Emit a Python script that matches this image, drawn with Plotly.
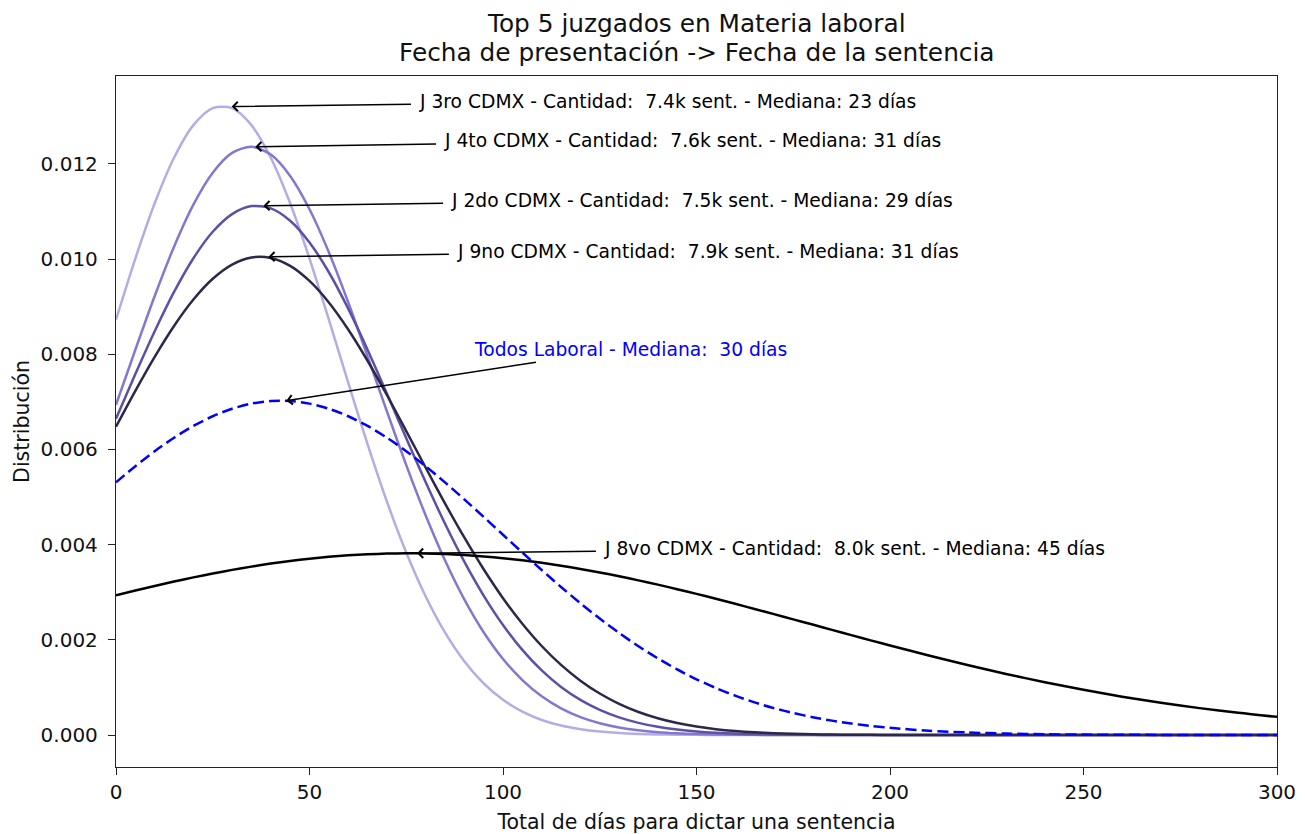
import plotly.graph_objects as go

# ---------------- data ----------------
dias = [0, 5, 10, 15, 20, 25, 30, 35, 40, 45, 50, 55, 60, 65, 70, 75, 80, 85,
        90, 95, 100, 105, 110, 115, 120, 125, 130, 135, 140, 145, 150, 155, 160,
        165, 170, 175, 180, 185, 190, 195, 200,
        210, 220, 230, 240, 250, 260, 270, 280, 290, 300]

j3ro = [0.008727, 0.010010, 0.011171, 0.012128, 0.012812, 0.013169, 0.013169,
        0.012812, 0.012128, 0.011171, 0.010010, 0.008727, 0.007403, 0.006110,
        0.004905, 0.003833, 0.002914, 0.002154, 0.001550, 0.001085, 0.000739,
        0.000490, 0.000316, 0.000198, 0.000121, 0.0000718, 0.0000415, 0.0000233,
        0.0000128, 0.0000068, 0.0000035, 0.0000018, 0.0000009, 0.0000004,
        0.0000002, 0, 0, 0, 0, 0, 0,
        0, 0, 0, 0, 0, 0, 0, 0, 0, 0]
j4to = [0.006936, 0.008094, 0.009222, 0.010259, 0.011142, 0.011813, 0.012229,
        0.012358, 0.012194, 0.011746, 0.011046, 0.010142, 0.009091, 0.007955,
        0.006798, 0.005670, 0.004617, 0.003670, 0.002849, 0.002159, 0.001597,
        0.001154, 0.000813, 0.000560, 0.000376, 0.000247, 0.000158, 0.0000990,
        0.0000604, 0.0000360, 0.0000210, 0.0000119, 0.0000066, 0.0000036,
        0.0000019, 0.0000010, 0, 0, 0, 0, 0,
        0, 0, 0, 0, 0, 0, 0, 0, 0, 0]
j2do = [0.006646, 0.007582, 0.008482, 0.009308, 0.010017, 0.010573, 0.010944,
        0.011112, 0.011064, 0.010805, 0.010349, 0.009722, 0.008957, 0.008094,
        0.007173, 0.006235, 0.005314, 0.004443, 0.003643, 0.002930, 0.002311,
        0.001788, 0.001356, 0.001009, 0.000737, 0.000527, 0.000370, 0.000255,
        0.000172, 0.000114, 0.0000740, 0.0000471, 0.0000294, 0.0000181,
        0.0000108, 0.0000064, 0.0000037, 0.0000021, 0.0000012, 0.0000006, 0,
        0, 0, 0, 0, 0, 0, 0, 0, 0, 0]
j9no = [0.006478, 0.007232, 0.007946, 0.008594, 0.009148, 0.009585, 0.009884,
        0.010033, 0.010023, 0.009856, 0.009539, 0.009087, 0.008520, 0.007863,
        0.007143, 0.006386, 0.005620, 0.004867, 0.004150, 0.003482, 0.002875,
        0.002338, 0.001870, 0.001473, 0.001142, 0.000871, 0.000654, 0.000484,
        0.000352, 0.000252, 0.000177, 0.000123, 0.0000841, 0.0000565,
        0.0000373, 0.0000243, 0.0000156, 0.0000098, 0.0000061, 0.0000037,
        0.0000022,
        0.0000007, 0, 0, 0, 0, 0, 0, 0, 0, 0]
j8vo = [0.002936, 0.003036, 0.003132, 0.003224, 0.003312, 0.003393, 0.003469,
        0.003538, 0.003601, 0.003656, 0.003703, 0.003743, 0.003774, 0.003797,
        0.003811, 0.003817, 0.003814, 0.003802, 0.003781, 0.003752, 0.003715,
        0.003670, 0.003617, 0.003556, 0.003489, 0.003415, 0.003335, 0.003249,
        0.003159, 0.003064, 0.002965, 0.002862, 0.002757, 0.002649, 0.002540,
        0.002430, 0.002320, 0.002209, 0.002099, 0.001989, 0.001882,
        0.001671, 0.001471, 0.001283, 0.001109, 0.000950, 0.000806, 0.000678,
        0.000565, 0.000466, 0.000381]
todos = [0.005308, 0.005648, 0.005963, 0.006246, 0.006493, 0.006697, 0.006855,
         0.006962, 0.007016, 0.007016, 0.006962, 0.006855, 0.006697, 0.006493,
         0.006246, 0.005963, 0.005648, 0.005308, 0.004951, 0.004582, 0.004207,
         0.003834, 0.003466, 0.003110, 0.002769, 0.002446, 0.002144, 0.001865,
         0.001610, 0.001378, 0.001171, 0.000988, 0.000827, 0.000686, 0.000565,
         0.000462, 0.000375, 0.000302, 0.000241, 0.000191, 0.000150,
         0.0000908, 0.0000532, 0.0000302, 0.0000167, 0.0000089, 0.0000046,
         0.0000023, 0.0000011, 0.0000005, 0.0000002]

juzgados = ["J 3ro CDMX", "J 4to CDMX", "J 2do CDMX", "J 9no CDMX", "J 8vo CDMX"]
cantidades = ["7.4k", "7.6k", "7.5k", "7.9k", "8.0k"]
medianas = [23, 31, 29, 31, 45]
mediana_todos = 30

titulo_1 = "Top 5 juzgados en Materia laboral"
titulo_2 = "Fecha de presentación -> Fecha de la sentencia"
x_titulo = "Total de días para dictar una sentencia"
y_titulo = "Distribución"
x_ticks = [0, 50, 100, 150, 200, 250, 300]

series = [j3ro, j4to, j2do, j9no, j8vo]

# ---------------- styling / layout ----------------
colores = ["#b5ace3", "#8577d0", "#5f4fa6", "#2c2848", "#000000"]
FONT = "DejaVu Sans"
TXT = "#111111"

# annotation placement: (text x, text y, arrow tail x, tail y, arrow tip x, tip y)
pos_anot = [
    (77.8, 0.013319, 76.6, 0.013252, 29.9, 0.013204),
    (84.3, 0.012500, 83.1, 0.012418, 36.0, 0.012359),
    (86.1, 0.011239, 84.9, 0.011170, 38.1, 0.011120),
    (87.6, 0.010168, 86.4, 0.010099, 39.4, 0.010048),
    (125.6, 0.003929, 124.4, 0.003863, 77.8, 0.003817),
]
pos_todos = (92.0, 0.008109, 108.9, 0.007836, 44.0, 0.007023)

fig = go.Figure()

for nombre, ys, c in zip(juzgados, series, colores):
    fig.add_trace(go.Scatter(x=dias, y=ys, mode="lines", name=nombre,
                             line=dict(color=c, width=2.5, shape="spline", smoothing=0.8)))

fig.add_trace(go.Scatter(x=dias, y=todos, mode="lines", name="Todos Laboral",
                         line=dict(color="#0000ff", width=2.5, dash="11px,5px",
                                   shape="spline", smoothing=0.8)))

anots = []
def add_anot(texto, color, p):
    tx, ty, ax_, ay_, hx, hy = p
    anots.append(dict(x=tx, y=ty, xref="x", yref="y", text=texto, showarrow=False,
                      xanchor="left", yanchor="middle",
                      font=dict(family=FONT, size=18.7, color=color)))
    anots.append(dict(x=hx, y=hy, ax=ax_, ay=ay_, xref="x", yref="y", axref="x", ayref="y",
                      text="", showarrow=True, arrowhead=4, arrowsize=1.2,
                      arrowwidth=1.5, arrowcolor="#000000", standoff=0, startstandoff=0))

for nombre, cant, med, p in zip(juzgados, cantidades, medianas, pos_anot):
    add_anot(f"{nombre} - Cantidad:\u00a0 {cant} sent. - Mediana: {med} días", "#000000", p)
add_anot(f"Todos Laboral - Mediana:\u00a0 {mediana_todos} días", "#0000ff", pos_todos)

# two-line title, centred over the plotting area
for txt, yp in [(titulo_1, 1.0753), (titulo_2, 1.0333)]:
    anots.append(dict(x=0.5, y=yp, xref="paper", yref="paper", text=txt, showarrow=False,
                      xanchor="center", yanchor="middle",
                      font=dict(family=FONT, size=24.8, color=TXT)))

axis_common = dict(showline=True, linecolor="#222222", linewidth=1.3, mirror=True,
                   ticks="outside", ticklen=7, tickwidth=1.3, tickcolor="#222222",
                   showgrid=False, zeroline=False, automargin=False,
                   tickfont=dict(family=FONT, size=20, color=TXT))

# the page body adds an 8 px offset at the top-left of the figure
fig.update_layout(
    width=1289, height=826,
    margin=dict(l=108, r=20, t=68, b=67, autoexpand=False),
    paper_bgcolor="white", plot_bgcolor="white",
    showlegend=False,
    font=dict(family=FONT, color=TXT),
    xaxis=dict(range=[0, 300], tickvals=x_ticks,
               title=dict(text=x_titulo, standoff=20,
                          font=dict(family=FONT, size=20.5, color=TXT)),
               **axis_common),
    yaxis=dict(range=[-0.000672, 0.013845], tick0=0, dtick=0.002, tickformat=".3f",
               ticklabelstandoff=6,
               title=dict(text=y_titulo, standoff=5,
                          font=dict(family=FONT, size=20.5, color=TXT)),
               **axis_common),
    annotations=anots,
)

fig.write_html("out.html")
